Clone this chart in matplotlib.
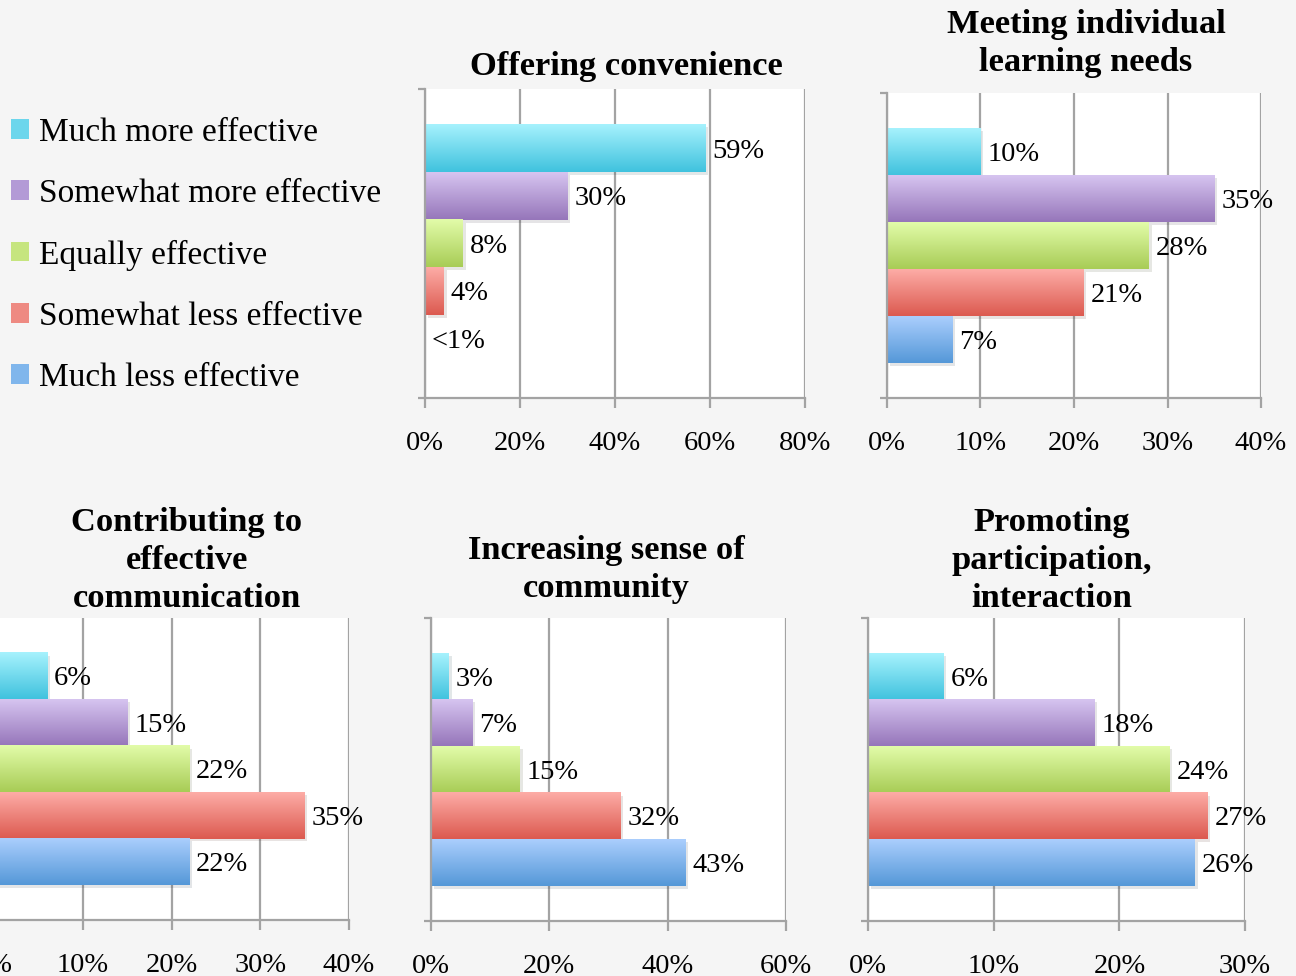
import numpy as np
import matplotlib
matplotlib.use('Agg')
import matplotlib.pyplot as plt
from matplotlib.patches import Patch
from matplotlib import patheffects

plt.rcParams['font.family'] = ['Liberation Serif', 'DejaVu Serif']

categories = ['Much more effective', 'Somewhat more effective', 'Equally effective',
              'Somewhat less effective', 'Much less effective']

titles = ['Offering convenience',
          'Meeting individual\nlearning needs',
          'Contributing to\neffective\ncommunication',
          'Increasing sense of\ncommunity',
          'Promoting\nparticipation,\ninteraction']

convenience = [59, 30, 8, 4, 0]
learning_needs = [10, 35, 28, 21, 7]
communication = [6, 15, 22, 35, 22]
community = [3, 7, 15, 32, 43]
participation = [6, 18, 24, 27, 26]

x_max = [80, 40, 40, 60, 30]
x_step = [20, 10, 10, 20, 10]

# gradient colours (top, bottom) per category
top_colors = ['#a6f2fd', '#d6c4f0', '#e2fca9', '#fdaca6', '#aacefd']
bot_colors = ['#40c2de', '#9676ba', '#a8cc56', '#dc5a50', '#5598d8']
legend_colors = ['#6cd6ec', '#b39ad6', '#c6e57f', '#ee8a82', '#80b6ec']

# axes rectangles in figure fraction
rects = [
    [0.3279, 0.5922, 0.2932, 0.3166],
    [0.6844, 0.5922, 0.2886, 0.3125],
    [-0.0046, 0.0574, 0.2739, 0.3094],
    [0.3326, 0.0564, 0.2739, 0.3104],
    [0.6698, 0.0564, 0.2909, 0.3104],
]
title_pos = [(0.4830, 0.9314), (0.8380, 0.9550), (0.1443, 0.4260),
             (0.4676, 0.4165), (0.8117, 0.4260)]

grid_col = '#a3a3a3'


def hex_rgb(h):
    return np.array([int(h[i:i + 2], 16) / 255 for i in (1, 3, 5)])


fig = plt.figure(figsize=(12.96, 9.76), dpi=100)
fig.patch.set_facecolor('#f5f5f5')

series = [convenience, learning_needs, communication, community, participation]
for k, vals in enumerate(series):
    ax = fig.add_axes(rects[k])
    ax.set_facecolor('white')
    n = len(vals)
    pos = np.arange(n)[::-1]
    h = 1.0
    bars = ax.barh(pos, vals, height=h, color=bot_colors, zorder=2,
                   path_effects=[patheffects.SimplePatchShadow(offset=(2, -2), alpha=0.12),
                                 patheffects.Normal()])
    for i, b in enumerate(bars):
        w = vals[i]
        if w <= 0:
            continue
        t = np.linspace(0, 1, 50)[:, None]
        grad = (1 - t) * hex_rgb(top_colors[i]) + t * hex_rgb(bot_colors[i])
        ax.imshow(grad[:, None, :], extent=(0, w, pos[i] - h / 2, pos[i] + h / 2),
                  origin='upper', aspect='auto', zorder=2.5, interpolation='bilinear')

    for i, v in enumerate(vals):
        lab = f'{v}%' if v >= 1 else '<1%'
        ax.annotate(lab, (v, pos[i]), xytext=(5, -2), textcoords='offset points',
                    va='center', ha='left', fontsize=20.5, zorder=4)

    ticks = np.arange(0, x_max[k] + 1, x_step[k])
    ax.set_xticks(ticks)
    ax.set_xticklabels([f'{t}%' for t in ticks], fontsize=20.5)
    ax.set_xlim(0, x_max[k])
    margin = 0.75
    ax.set_ylim(-0.5 - margin, n - 0.5 + margin)
    ax.set_yticks([-0.5 - margin, n - 0.5 + margin])
    ax.set_yticklabels([])
    ax.grid(axis='x', color=grid_col, lw=1.6, zorder=1)
    ax.set_axisbelow(True)
    for s in ['top', 'right']:
        ax.spines[s].set_visible(False)
    for s in ['left', 'bottom']:
        ax.spines[s].set_color(grid_col)
        ax.spines[s].set_linewidth(1.6)
    ax.tick_params(axis='x', direction='out', length=7, width=1.6, color=grid_col, pad=16.5)
    ax.tick_params(axis='y', direction='out', length=5, width=1.6, color=grid_col)

    fig.text(title_pos[k][0], title_pos[k][1], titles[k], ha='center', va='center',
             fontsize=24.8, fontweight='bold', linespacing=1.29)

handles = [Patch(facecolor=c, edgecolor='none') for c in legend_colors]
fig.legend(handles, categories, loc='upper left', bbox_to_anchor=(0.0085, 0.880),
           frameon=False, fontsize=24, handlelength=0.55, handleheight=0.52,
           handletextpad=0.3, labelspacing=0.92, borderpad=0, borderaxespad=0)

fig.savefig('out.png', dpi=100, facecolor=fig.get_facecolor())
